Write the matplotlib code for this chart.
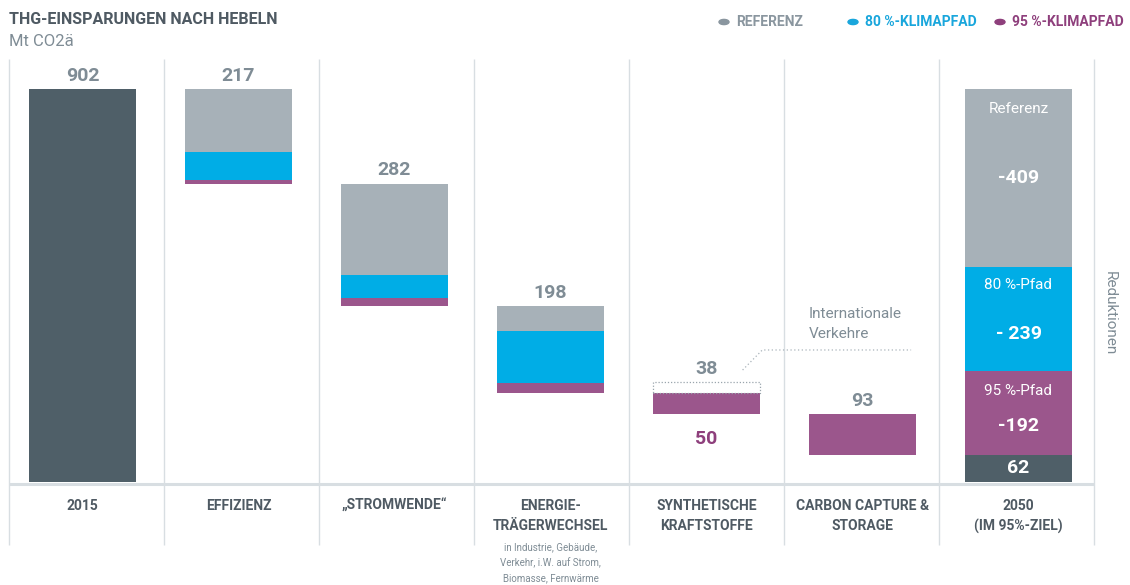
import matplotlib
matplotlib.use("Agg")
import matplotlib.pyplot as plt
from matplotlib.patches import Rectangle

plt.rcParams['font.family'] = ['Liberation Sans Narrow', 'Roboto', 'DejaVu Sans']

# ----- data (Mt CO2ä) -----
start_label = "2015"
start_value = 902
levers = ["EFFIZIENZ", "„STROMWENDE“", "ENERGIE-\nTRÄGERWECHSEL",
          "SYNTHETISCHE\nKRAFTSTOFFE", "CARBON CAPTURE &\nSTORAGE"]
ref_cut = [144, 209, 56, 0, 0]
p80_cut = [66, 53, 120, 0, 0]
p95_cut = [7, 20, 22, 50, 93]
intl_transport = 38      # international transport, shown as dotted box
intl_box_shown = 24      # drawn height of dotted box
end_label = "2050\n(IM 95%-ZIEL)"
energie_note = "in Industrie, Gebäude,\nVerkehr, i.W. auf Strom,\nBiomasse, Fernwärme"

# ----- colours -----
c_dark = "#4f5f68"
c_ref = "#a7b1b8"
c_80 = "#00ade6"
c_95 = "#9b568c"
c_txt = "#7f8c95"
c_head = "#4f5a63"
c_grid = "#d8dee2"

fig = plt.figure(figsize=(11.3, 5.85), dpi=100)
W, H = 1130, 585
px = 0.4357  # pixels per Mt
base_px, top_px = 482, 59
ax = fig.add_axes([9 / W, (H - base_px) / H, (1094 - 9) / W, (base_px - top_px) / H])
ax.set_xlim(-0.5, 6.5)
ax.set_ylim(0, (base_px - top_px) / px)
ax.axis("off")

def ypx(p):
    # pixel offset below baseline -> data units
    return -(p - base_px) / px

def bx(i):
    # bars sit slightly left of column centre, drifting right
    return i + (-4 + i) / 155

bw = 0.69
lbl_kw = dict(textcoords="offset points", ha="center", va="bottom",
              fontsize=14, fontweight="bold", color=c_txt)

# separators and baseline
for i in range(8):
    ax.vlines(i - 0.5, ypx(545), ypx(top_px), color=c_grid, lw=1, clip_on=False, zorder=0)
ax.hlines(ypx(484), -0.5, 6.5, color=c_grid, lw=2.2, clip_on=False, zorder=0)

# 2015 bar
ax.bar(bx(0), start_value, width=bw, color=c_dark, zorder=2)
ax.annotate(f"{start_value}", (bx(0), start_value), xytext=(0, 3), **lbl_kw)

level = start_value
for i, (r, b, p) in enumerate(zip(ref_cut, p80_cut, p95_cut), start=1):
    x = bx(i)
    top = level
    ax.bar(x, r, bottom=top - r, width=bw, color=c_ref, zorder=2)
    ax.bar(x, b, bottom=top - r - b, width=bw, color=c_80, zorder=2)
    ax.bar(x, p, bottom=top - r - b - p, width=bw, color=c_95, zorder=2)
    total = r + b + p
    if i == 4:
        ax.add_patch(Rectangle((x - bw / 2, top), bw, intl_box_shown, fill=False,
                               ls=(0, (1, 1.5)), lw=0.9, ec="#9aa5ad", zorder=3))
        ax.annotate(f"{intl_transport}", (x, top + intl_box_shown), xytext=(0, 3), **lbl_kw)
        ax.annotate(f"{p}", (x, top - total), xytext=(0, -11),
                    textcoords="offset points", ha="center", va="top",
                    fontsize=14, fontweight="bold", color="#8e3f7c")
    else:
        ax.annotate(f"{total}", (x, top), xytext=(0, 3), **lbl_kw)
    level -= total

# 2050 stacked bar
ref_sum = sum(ref_cut)
p80_sum = sum(p80_cut)
p95_sum = sum(p95_cut)
remain = start_value - ref_sum - p80_sum - p95_sum
x = bx(6)
segs = [(remain, c_dark), (p95_sum, c_95), (p80_sum, c_80), (ref_sum, c_ref)]
bottom = 0
bounds = []
for v, c in segs:
    ax.bar(x, v, bottom=bottom, width=bw, color=c, zorder=2)
    bounds.append((bottom, bottom + v))
    bottom += v

wt = dict(ha="center", va="center", color="white", zorder=4)
(r0, r1), (q0, q1), (b0, b1), (g0, g1) = bounds
ax.text(x, (r0 + r1) / 2, f"{remain}", fontsize=14, fontweight="bold", **wt)
ax.text(x, q1 - 0.24 * (q1 - q0), "95 %-Pfad", fontsize=11, **wt)
ax.text(x, q1 - 0.65 * (q1 - q0), f"-{p95_sum}", fontsize=14, fontweight="bold", **wt)
ax.text(x, b1 - 0.17 * (b1 - b0), "80 %-Pfad", fontsize=11, **wt)
ax.text(x, b1 - 0.64 * (b1 - b0), f"- {p80_sum}", fontsize=14, fontweight="bold", **wt)
ax.text(x, g1 - 0.11 * (g1 - g0), "Referenz", fontsize=11, **wt)
ax.text(x, g1 - 0.5 * (g1 - g0), f"-{ref_sum}", fontsize=14, fontweight="bold", **wt)

# international transport leader
ax.plot([4.233, 4.36, 5.32], [257, 303, 303], ls=(0, (1, 2)), lw=0.9, color="#a9b3ba", zorder=3)
ax.text(4.66, 362, "Internationale\nVerkehre", ha="left", va="center",
        fontsize=11, color=c_txt, linespacing=1.55)

# category labels
cats = [start_label] + levers + [end_label]
for i, c in enumerate(cats):
    ax.text(bx(i), ypx(499), c, ha="center", va="top", fontsize=10,
            fontweight="bold", color=c_head, linespacing=1.5)
ax.text(bx(3), ypx(542), energie_note, ha="center", va="top", fontsize=7,
        color=c_txt, linespacing=1.6)

# side label
fig.text(1110 / W, 1 - 313 / H, "Reduktionen", rotation=-90, ha="center", va="center",
         fontsize=11, color=c_txt)

# title
fig.text(9 / W, 1 - 19 / H, "THG-EINSPARUNGEN NACH HEBELN", ha="left", va="center",
         fontsize=11.5, fontweight="bold", color=c_head)
fig.text(9 / W, 1 - 42 / H, "Mt CO2ä", ha="left", va="center", fontsize=12, color=c_txt)

# legend
leg = [(724, 736, "REFERENZ", "#8a969f"), (853, 865, "80 %-KLIMAPFAD", "#19a6dc"),
       (1000, 1012, "95 %-KLIMAPFAD", "#8e3f7c")]
for dx, tx, t, c in leg:
    fig.patches.append(plt.Circle((dx / W, 1 - 22 / H), 5 / W, transform=fig.transFigure,
                                  color=c, figure=fig))
    fig.text(tx / W, 1 - 22 / H, t, ha="left", va="center", fontsize=10,
             fontweight="bold", color=c)

fig.savefig("out.png", dpi=100)
